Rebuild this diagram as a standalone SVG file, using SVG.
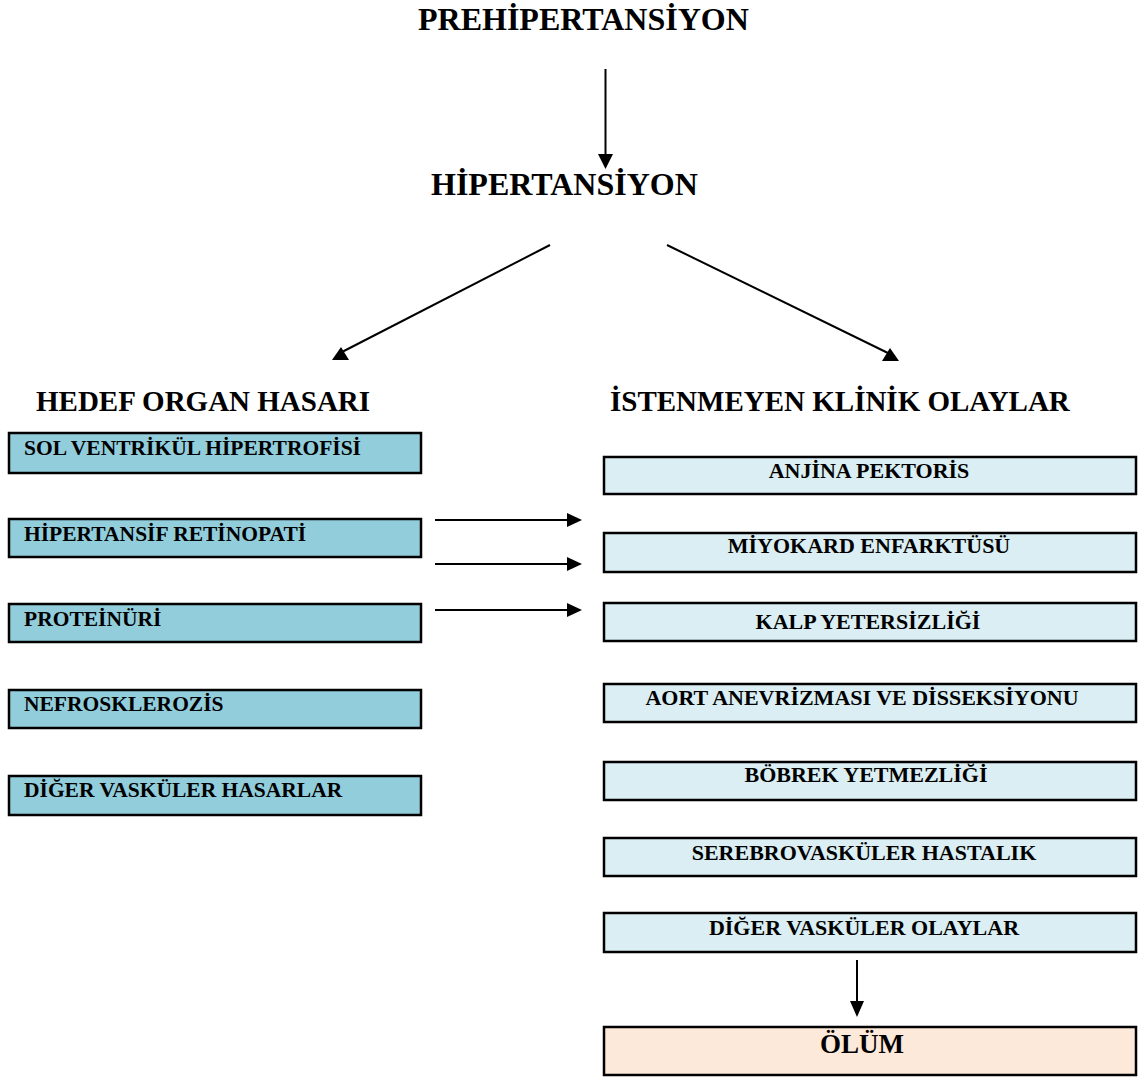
<svg xmlns="http://www.w3.org/2000/svg" width="1140" height="1079" viewBox="0 0 1140 1079">
<defs>
<style>
.title{font-size:32px}
.sub{font-size:29px}
.lt{font-size:21.5px}
.rt{font-size:22px;text-anchor:middle}
.lbox{fill:#92CDDC;stroke:#000;stroke-width:2.5}
.rbox{fill:#DAEEF3;stroke:#000;stroke-width:2.5}
.dbox{fill:#FDE9D9;stroke:#000;stroke-width:2.5}
.ln{stroke:#000;stroke-width:2;fill:none}
.ah{fill:#000}
</style>
</defs>
<rect width="1140" height="1079" fill="#fff"/>
<g font-family="Liberation Serif, Times New Roman, serif" font-weight="bold" fill="#000">
<g id="prehipertansiyon"><text class="title" x="418" y="30">PREHİPERTANSİYON</text></g>
<g id="hipertansiyon"><text class="title" x="431" y="195">HİPERTANSİYON</text></g>
<g id="hedef-organ-hasari"><text class="sub" x="36" y="411">HEDEF ORGAN HASARI</text></g>
<g id="istenmeyen-klinik-olaylar"><text class="sub" x="610" y="411">İSTENMEYEN KLİNİK OLAYLAR</text></g>

<g id="sol-ventrikul"><rect class="lbox" x="9" y="433" width="412" height="40"/><text class="lt" x="24" y="455">SOL VENTRİKÜL HİPERTROFİSİ</text></g>
<g id="retinopati"><rect class="lbox" x="9" y="519" width="412" height="38"/><text class="lt" x="24" y="541">HİPERTANSİF RETİNOPATİ</text></g>
<g id="proteinuri"><rect class="lbox" x="9" y="604" width="412" height="38"/><text class="lt" x="24" y="626">PROTEİNÜRİ</text></g>
<g id="nefroskleroz"><rect class="lbox" x="9" y="690" width="412" height="38"/><text class="lt" x="24" y="711">NEFROSKLEROZİS</text></g>
<g id="diger-hasarlar"><rect class="lbox" x="9" y="776" width="412" height="39"/><text class="lt" x="24" y="797">DİĞER VASKÜLER HASARLAR</text></g>

<g id="anjina"><rect class="rbox" x="604" y="457" width="532" height="37"/><text class="rt" x="869" y="478">ANJİNA PEKTORİS</text></g>
<g id="miyokard"><rect class="rbox" x="604" y="533" width="532" height="39"/><text class="rt" x="869" y="553">MİYOKARD ENFARKTÜSÜ</text></g>
<g id="kalp"><rect class="rbox" x="604" y="603" width="532" height="38"/><text class="rt" x="868" y="629">KALP YETERSİZLİĞİ</text></g>
<g id="aort"><rect class="rbox" x="604" y="684" width="532" height="38"/><text class="rt" x="862" y="705">AORT ANEVRİZMASI VE DİSSEKSİYONU</text></g>
<g id="bobrek"><rect class="rbox" x="604" y="762" width="532" height="38"/><text class="rt" x="866" y="782">BÖBREK YETMEZLİĞİ</text></g>
<g id="serebro"><rect class="rbox" x="604" y="838" width="532" height="38"/><text class="rt" x="864" y="860">SEREBROVASKÜLER HASTALIK</text></g>
<g id="diger-olaylar"><rect class="rbox" x="604" y="913" width="532" height="39"/><text class="rt" x="864" y="935">DİĞER VASKÜLER OLAYLAR</text></g>
<g id="olum"><rect class="dbox" x="604" y="1027" width="532" height="48"/><text x="862" y="1053" font-size="27" text-anchor="middle">ÖLÜM</text></g>
</g>

<g id="connectors">
<line class="ln" x1="605.5" y1="69" x2="605.5" y2="156"/>
<polygon class="ah" points="598,154 613,154 605.5,169"/>
<line class="ln" x1="550" y1="245" x2="342" y2="352"/>
<polygon class="ah" points="332,360 349,360 341,347"/>
<line class="ln" x1="667" y1="245" x2="890" y2="354"/>
<polygon class="ah" points="882,361 899,361 890,348"/>
<line class="ln" x1="435" y1="520" x2="569" y2="520"/>
<polygon class="ah" points="567,513 567,527 582,520"/>
<line class="ln" x1="435" y1="564" x2="569" y2="564"/>
<polygon class="ah" points="567,557 567,571 582,564"/>
<line class="ln" x1="435" y1="610" x2="569" y2="610"/>
<polygon class="ah" points="567,603 567,617 582,610"/>
<line class="ln" x1="857" y1="960" x2="857" y2="1003"/>
<polygon class="ah" points="850,1001 864,1001 857,1017"/>
</g>
</svg>
